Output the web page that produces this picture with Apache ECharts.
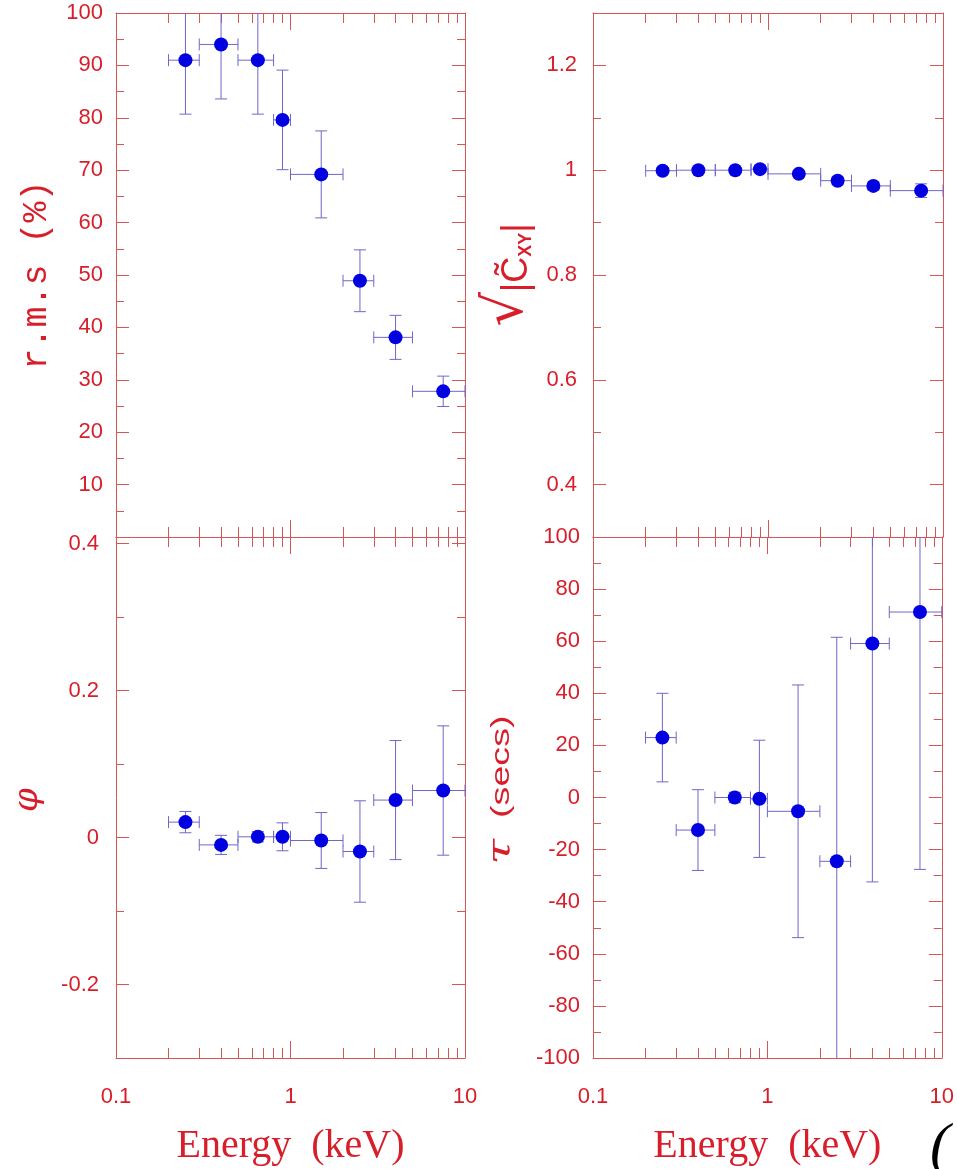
<!DOCTYPE html>
<html><head><meta charset="utf-8">
<script src="https://cdn.jsdelivr.net/npm/echarts@6/dist/echarts.min.js"></script>
<style>html,body{margin:0;padding:0;background:#fff}#c{width:957px;height:1169px}</style>
</head><body><div id="c"></div>
<script>
// ---- data ----
const energy     = [0.25, 0.4, 0.65, 0.9, 1.5, 2.5, 4, 7.5];
const energyLow  = [0.2, 0.3, 0.5, 0.8, 1, 2, 3, 5];
const energyHigh = [0.3, 0.5, 0.8, 1, 2, 3, 5, 10];

const rms    = [91, 94, 91, 79.6, 69.2, 48.9, 38.1, 27.8];
const rmsErr = [10.3, 10.4, 10.3, 9.5, 8.3, 5.9, 4.2, 2.9];

const coherence    = [0.999, 1.0, 1.0, 1.002, 0.993, 0.980, 0.970, 0.961];
const coherenceErr = [0.006, 0.005, 0.005, 0.006, 0.006, 0.007, 0.008, 0.013];

const phase    = [0.021, -0.010, 0.001, 0.001, -0.004, -0.019, 0.051, 0.064];
const phaseErr = [0.0145, 0.013, 0.007, 0.019, 0.038, 0.069, 0.081, 0.088];

const lag    = [23, -12.5, 0, -0.5, -5.3, -24.5, 59.1, 71.2];
const lagErr = [17, 15.5, 2, 22.5, 48.5, 86, 91.5, 98.8];

// ---- tick labels / tick positions ----
const xTickLabels  = [0.1, 1, 10];
const xMajorTicks  = [0.1, 1, 10];
const xMinorTicks  = [0.2, 0.3, 0.4, 0.5, 0.6, 0.7, 0.8, 0.9, 2, 3, 4, 5, 6, 7, 8, 9];

const rmsTickLabels = [10, 20, 30, 40, 50, 60, 70, 80, 90, 100];
const rmsMajorTicks = [0, 10, 20, 30, 40, 50, 60, 70, 80, 90, 100];
const rmsMinorTicks = [5, 15, 25, 35, 45, 55, 65, 75, 85, 95];

const cohTickLabels = [0.4, 0.6, 0.8, 1, 1.2];
const cohMajorTicks = [0.4, 0.6, 0.8, 1, 1.2];
const cohMinorTicks = [0.3, 0.5, 0.7, 0.9, 1.1, 1.3];

const phiTickLabels = [-0.2, 0, 0.2, 0.4];
const phiMajorTicks = [-0.2, 0, 0.2, 0.4];
const phiMinorTicks = [-0.3, -0.1, 0.1, 0.3];

const tauTickLabels = [-100, -80, -60, -40, -20, 0, 20, 40, 60, 80, 100];
const tauMajorTicks = [-100, -80, -60, -40, -20, 0, 20, 40, 60, 80, 100];
const tauMinorTicks = [-90, -70, -50, -30, -10, 10, 30, 50, 70, 90];

const xTitle = 'Energy  (keV)';

// ---- styles ----
const RED = '#d81e2a', FRAME = '#d45656', BAR = '#7066c8', DOT = '#0000e0';

const panels = [
  { grid: {left: 116, top: 13, width: 349, height: 524}, yMin: 0, yMax: 100,
    vals: rms, errs: rmsErr, labels: rmsTickLabels, major: rmsMajorTicks, minor: rmsMinorTicks,
    xLabels: false, labelMargin: 13 },
  { grid: {left: 593, top: 13, width: 350, height: 524}, yMin: 0.3, yMax: 1.3,
    vals: coherence, errs: coherenceErr, labels: cohTickLabels, major: cohMajorTicks, minor: cohMinorTicks,
    xLabels: false, labelMargin: 16 },
  { grid: {left: 116, top: 537, width: 349, height: 521}, yMin: -0.3, yMax: 0.409,
    vals: phase, errs: phaseErr, labels: phiTickLabels, major: phiMajorTicks, minor: phiMinorTicks,
    xLabels: true, labelMargin: 17 },
  { grid: {left: 593, top: 537, width: 350, height: 521}, yMin: -100, yMax: 100,
    vals: lag, errs: lagErr, labels: tauTickLabels, major: tauMajorTicks, minor: tauMinorTicks,
    xLabels: true, labelMargin: 13 }
];

const fmt = v => String(+(+v).toPrecision(4));
const labelStyle = { color: RED, fontSize: 22, fontFamily: '"Liberation Sans", Arial, sans-serif' };
const tickStyle = { color: FRAME, width: 1 };

const grids = [], xAxes = [], yAxes = [], series = [];

panels.forEach((p, g) => {
  grids.push(Object.assign({containLabel: false}, p.grid));
  const xBase = {
    type: 'log', logBase: 10, min: 0.1, max: 10, gridIndex: g,
    splitLine: {show: false}, axisPointer: {show: false}
  };
  ['bottom', 'top'].forEach(pos => {
    const major = Object.assign({}, xBase, {
      position: pos,
      axisLine: {show: true, onZero: false, lineStyle: tickStyle},
      axisTick: {show: true, inside: true, length: 17, lineStyle: tickStyle, customValues: xMajorTicks},
      axisLabel: {show: false}
    });
    if (pos === 'bottom' && p.xLabels) {
      major.axisLabel = Object.assign({show: true, margin: 28, customValues: xTickLabels, formatter: fmt}, labelStyle);
      major.name = xTitle;
      major.nameLocation = 'middle';
      major.nameGap = 68;
      major.nameTextStyle = {color: RED, fontSize: 40, fontFamily: '"Liberation Serif", "Times New Roman", serif'};
    }
    xAxes.push(major);
    xAxes.push(Object.assign({}, xBase, {
      position: pos,
      axisLine: {show: false, onZero: false},
      axisTick: {show: true, inside: true, length: 10, lineStyle: tickStyle, customValues: xMinorTicks},
      axisLabel: {show: false}
    }));
  });
  const yBase = {type: 'value', min: p.yMin, max: p.yMax, gridIndex: g, splitLine: {show: false}, axisPointer: {show: false}};
  ['left', 'right'].forEach(pos => {
    const major = Object.assign({}, yBase, {
      position: pos,
      axisLine: {show: true, onZero: false, lineStyle: tickStyle},
      axisTick: {show: true, inside: true, length: 13, lineStyle: tickStyle, customValues: p.major},
      axisLabel: {show: false}
    });
    if (pos === 'left') {
      major.axisLabel = Object.assign({show: true, margin: p.labelMargin, customValues: p.labels, formatter: fmt}, labelStyle);
    }
    yAxes.push(major);
    yAxes.push(Object.assign({}, yBase, {
      position: pos,
      axisLine: {show: false, onZero: false},
      axisTick: {show: true, inside: true, length: 8, lineStyle: tickStyle, customValues: p.minor},
      axisLabel: {show: false}
    }));
  });

  const axisIdx = g * 4;
  const yMin = p.yMin, yMax = p.yMax;
  series.push({
    type: 'custom', xAxisIndex: axisIdx, yAxisIndex: axisIdx, z: 2,
    encode: {x: 0, y: 1},
    data: energy.map((e, i) => [e, p.vals[i], energyLow[i], energyHigh[i], p.vals[i] - p.errs[i], p.vals[i] + p.errs[i]]),
    renderItem: function (params, api) {
      const x = api.value(0), y = api.value(1);
      const xl = Math.max(api.value(2), 0.1), xh = Math.min(api.value(3), 10);
      const yl = api.value(4), yh = api.value(5);
      const c = api.coord([x, y]);
      const a = api.coord([xl, y]), b = api.coord([xh, y]);
      const lo = api.coord([x, Math.max(yl, yMin)]), hi = api.coord([x, Math.min(yh, yMax)]);
      const cap = 6;
      const st = {stroke: BAR, lineWidth: 1};
      const kids = [
        {type: 'line', shape: {x1: a[0], y1: c[1], x2: b[0], y2: c[1]}, style: st},
        {type: 'line', shape: {x1: c[0], y1: lo[1], x2: c[0], y2: hi[1]}, style: st},
        {type: 'line', shape: {x1: a[0], y1: c[1] - cap, x2: a[0], y2: c[1] + cap}, style: st},
        {type: 'line', shape: {x1: b[0], y1: c[1] - cap, x2: b[0], y2: c[1] + cap}, style: st}
      ];
      if (yl >= yMin) kids.push({type: 'line', shape: {x1: c[0] - cap, y1: lo[1], x2: c[0] + cap, y2: lo[1]}, style: st});
      if (yh <= yMax) kids.push({type: 'line', shape: {x1: c[0] - cap, y1: hi[1], x2: c[0] + cap, y2: hi[1]}, style: st});
      return {type: 'group', children: kids};
    }
  });
  series.push({
    type: 'scatter', xAxisIndex: axisIdx, yAxisIndex: axisIdx, z: 3,
    symbol: 'circle', symbolSize: 14, itemStyle: {color: DOT, opacity: 1},
    data: energy.map((e, i) => [e, p.vals[i]])
  });
});

const titleRed = RED;
const option = {
  animation: false,
  backgroundColor: '#fff',
  grid: grids, xAxis: xAxes, yAxis: yAxes, series: series,
  graphic: [
    {type: 'text', x: 37, y: 275, rotation: Math.PI / 2,
     style: {text: 'r.m.s (%)', font: '35px "Liberation Mono", "Courier New", monospace', fill: titleRed, align: 'center', verticalAlign: 'middle'}},
    {type: 'text', x: 508, y: 275, rotation: Math.PI / 2,
     style: {text: '{r|√}{a||C\u0303}{s|XY}{a||}', align: 'center', verticalAlign: 'middle',
       rich: {
         r: {fontSize: 54, fontFamily: '"DejaVu Sans", sans-serif', fill: titleRed, lineHeight: 54, verticalAlign: 'bottom'},
         a: {fontSize: 36, fontFamily: '"Liberation Sans", sans-serif', fill: titleRed, lineHeight: 54, verticalAlign: 'bottom'},
         s: {fontSize: 18, fontWeight: 'bold', fontFamily: '"Liberation Sans", sans-serif', fill: titleRed, lineHeight: 54, verticalAlign: 'bottom'}
       }}},
    {type: 'text', x: 28, y: 800, rotation: Math.PI / 2,
     style: {text: 'φ', font: 'italic 34px "DejaVu Serif", serif', fill: titleRed, align: 'center', verticalAlign: 'middle'}},
    {type: 'text', x: 502, y: 790, rotation: Math.PI / 2, scaleX: 1.45,
     style: {text: '{t|τ}  (secs)', font: '26px "Liberation Sans", sans-serif', fill: titleRed, align: 'center', verticalAlign: 'middle',
       rich: {t: {fontSize: 32, fontStyle: 'italic', fontFamily: '"DejaVu Serif", serif', fill: titleRed}}}},
    {type: 'text', x: 930, y: 1118,
     style: {text: '(', font: 'italic 60px "Liberation Serif", serif', fill: '#000'}}
  ]
};
const chart = echarts.init(document.getElementById('c'), null, {renderer: 'canvas'});
chart.setOption(option);
</script></body></html>
